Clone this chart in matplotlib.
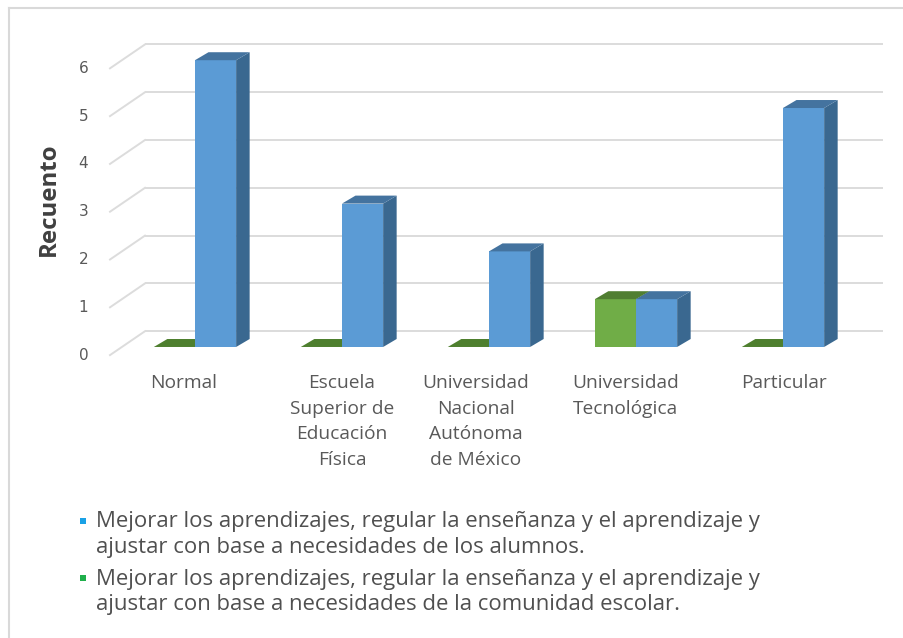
import matplotlib
matplotlib.use("Agg")
import matplotlib.pyplot as plt
from matplotlib.patches import Polygon, Rectangle
from matplotlib.lines import Line2D

# ---- data ----
categories = ["Normal", "Escuela\nSuperior de\nEducación\nFísica",
              "Universidad\nNacional\nAutónoma\nde México",
              "Universidad\nTecnológica", "Particular"]
alumnos = [6, 3, 2, 1, 5]          # blue series
comunidad = [0, 0, 0, 1, 0]        # green series
yticks = [0, 1, 2, 3, 4, 5, 6]
legend_labels = [
    "Mejorar los aprendizajes, regular la enseñanza y el aprendizaje y\najustar con base a necesidades de los alumnos.",
    "Mejorar los aprendizajes, regular la enseñanza y el aprendizaje y\najustar con base a necesidades de la comunidad escolar.",
]

W, H = 904, 638
fig = plt.figure(figsize=(W / 100, H / 100), dpi=100)
fig.patch.set_facecolor("white")
renderer = fig.canvas.get_renderer()

def fx(px):
    return px / W

def fy(py):
    return 1 - py / H

def fit_size(text, family, weight, target_px, base=12.0):
    t = fig.text(0, 0, text, fontsize=base, family=family, fontweight=weight)
    wpx = t.get_window_extent(renderer=renderer).width
    t.remove()
    return base * target_px / wpx

# outer border (top and left)
fig.add_artist(Line2D([fx(9), fx(9)], [fy(8), fy(H)], color="#D9D9D9", lw=1.5, transform=fig.transFigure))
fig.add_artist(Line2D([fx(9), fx(W)], [fy(8), fy(8)], color="#D9D9D9", lw=1.5, transform=fig.transFigure))

ax = fig.add_axes([fx(100), fy(365), fx(890) - fx(100), fy(30) - fy(365)])
ax.set_xlim(-0.646, 4.728)
ax.set_ylim(-0.377, 6.632)
ax.axis("off")

grid_c = "#DCDCDC"
back_dy = 0.33
back_x0 = -0.34
front_x = -0.578
front_dy = -0.17
right_x = 4.68

for v in yticks:
    ax.plot([back_x0, right_x], [v + back_dy, v + back_dy], color=grid_c, lw=1.4, zorder=1, solid_capstyle="butt")
    ax.plot([front_x, back_x0], [v + front_dy, v + back_dy], color=grid_c, lw=1.4, zorder=1)
    ax.text(front_x - 0.18, v + front_dy, str(v), ha="center", va="center",
            fontsize=11, color="#595959", family="DejaVu Sans")

rs = fit_size("Recuento", "Open Sans", "bold", 113)
ax.text(-0.995, 3.1, "Recuento", rotation=90, ha="center", va="center",
        fontsize=rs, fontweight="bold", color="#404040", family="Open Sans")

w = 0.28
dx = 0.092
dy = 0.167

def bar3d(x0, h, front, top, side, z):
    x1 = x0 + w
    if h > 0:
        ax.add_patch(Rectangle((x0, 0), w, h, facecolor=front, edgecolor="none", zorder=z))
        ax.add_patch(Polygon([(x1, 0), (x1 + dx, dy), (x1 + dx, h + dy), (x1, h)],
                             closed=True, facecolor=side, edgecolor="none", zorder=z))
    ax.add_patch(Polygon([(x0, h), (x1, h), (x1 + dx, h + dy), (x0 + dx, h + dy)],
                         closed=True, facecolor=top, edgecolor="none", zorder=z))

z = 3
for i in range(len(categories)):
    bar3d(i - w, comunidad[i], "#70AD47", "#507E32" if comunidad[i] > 0 else "#4E7F2E", "#4E7F2E", z)
    z += 1
    bar3d(i, alumnos[i], "#5B9BD5", "#44739F", "#3A6890", z)
    z += 1

# category labels
cs = fit_size("Universidad", "Open Sans", "normal", 106)
label_offsets = [-0.075, 0.0, -0.09, -0.07, 0.01]
for i, lab in enumerate(categories):
    for k, line in enumerate(lab.split("\n")):
        fig.text(fx(195 + 147 * (i + label_offsets[i])), fy(383 + 25.7 * k), line,
                 ha="center", va="center", fontsize=cs, color="#595959", family="Open Sans")

# legend
ls = fit_size(legend_labels[0].split("\n")[0], "Open Sans", "normal", 660)
leg_colors = ["#1AA1E6", "#1FAF4B"]
leg_y = [521, 578]
for c, y0, lab in zip(leg_colors, leg_y, legend_labels):
    fig.add_artist(Rectangle((fx(80), fy(y0 + 3)), fx(6), fy(0) - fy(6), facecolor=c,
                             edgecolor="none", transform=fig.transFigure))
    for k, line in enumerate(lab.split("\n")):
        fig.text(fx(96), fy(y0 + 1 + 25.5 * k), line, ha="left", va="center", fontsize=ls,
                 color="#505050", family="Open Sans")

fig.savefig("out.png", dpi=100, facecolor="white")
